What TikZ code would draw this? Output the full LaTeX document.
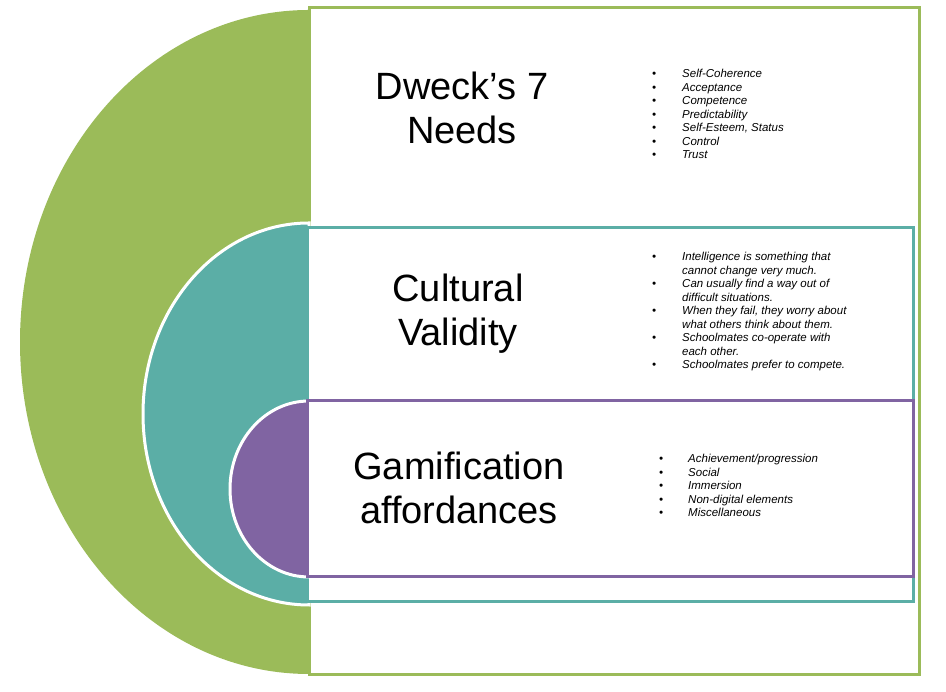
\documentclass[tikz,border=0pt]{standalone}
\usepackage{fontspec}
\setmainfont{Liberation Sans}
\usetikzlibrary{positioning}
\definecolor{needsgreen}{HTML}{9BBB59}
\definecolor{validteal}{HTML}{5BAEA6}
\definecolor{gamepurple}{HTML}{8064A2}
\newcommand{\bul}{\textbullet}
\begin{document}
\begin{tikzpicture}[x=1pt,y=1pt]
\tikzset{title/.style = {align=center, font=\fontsize{38}{44}\selectfont}}
\tikzset{list/.style = {anchor=north west, inner sep=0pt, font=\fontsize{11.5}{13.5}\selectfont\itshape}}
\tikzset{halfdisc/.style = {draw=white, line width=3pt}}
\useasboundingbox (0,0) rectangle (946,692);

% outer layer
\fill[needsgreen] (309,682) arc[start angle=90, end angle=270, x radius=289, y radius=332] -- cycle;
\draw[needsgreen, line width=3pt, fill=white] (309,684) rectangle (919,17);
% middle layer
\filldraw[halfdisc, fill=validteal] (309,469) arc[start angle=90, end angle=270, x radius=166, y radius=191] -- cycle;
\draw[validteal, line width=3pt, fill=white] (307,464) rectangle (913,90);
% inner layer
\filldraw[halfdisc, fill=gamepurple] (309,291) arc[start angle=90, end angle=270, x radius=79, y radius=88] -- cycle;
\draw[gamepurple, line width=3pt, fill=white] (307,291) rectangle (913,115);

% titles
\node[title] (needs) at (462,584) {Dweck's 7\\Needs};
\node[title] (valid) at (458,378) {Cultural\\Validity};
\node[title] (game) at (459,204) {Gamification\\affordances};

% lists
\node[list] (needslist) at (652,624) {\begin{tabular}{@{}p{30pt}@{}l@{}}
\bul & Self-Coherence\\ \bul & Acceptance\\ \bul & Competence\\ \bul & Predictability\\
\bul & Self-Esteem, Status\\ \bul & Control\\ \bul & Trust\end{tabular}};
\node[list] (validlist) at (652,441) {\begin{tabular}{@{}p{30pt}@{}l@{}}
\bul & Intelligence is something that\\ & cannot change very much.\\
\bul & Can usually find a way out of\\ & difficult situations.\\
\bul & When they fail, they worry about\\ & what others think about them.\\
\bul & Schoolmates co-operate with\\ & each other.\\
\bul & Schoolmates prefer to compete.\end{tabular}};
\node[list] (gamelist) at (659,239) {\begin{tabular}{@{}p{29pt}@{}l@{}}
\bul & Achievement/progression\\ \bul & Social\\ \bul & Immersion\\
\bul & Non-digital elements\\ \bul & Miscellaneous\end{tabular}};
\end{tikzpicture}
\end{document}
